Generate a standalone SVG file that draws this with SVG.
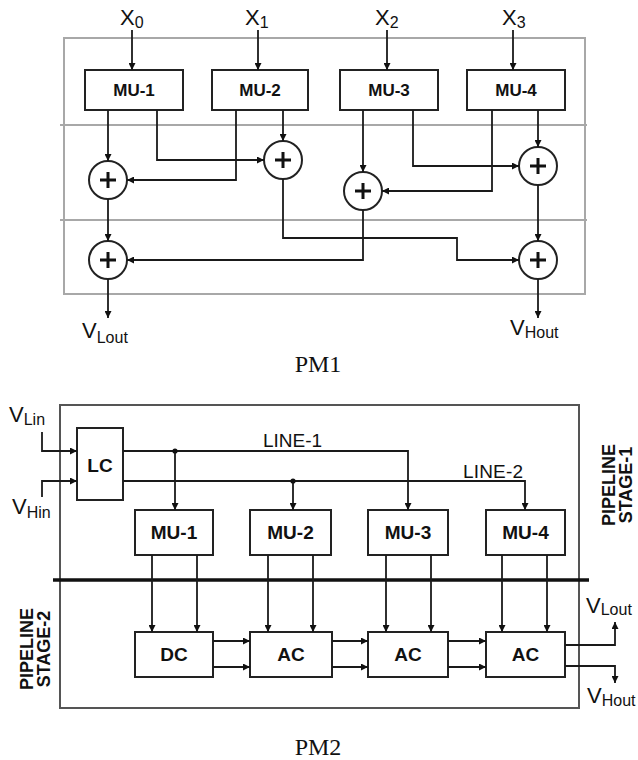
<svg xmlns="http://www.w3.org/2000/svg" width="638" height="760" viewBox="0 0 638 760">
<style>
.bg{fill:#fff}
.frame1{fill:none;stroke:#a8a8a8;stroke-width:2}
.frame2{fill:none;stroke:#555;stroke-width:2}
.box{fill:#fff;stroke:#222;stroke-width:2}
.add{fill:#fff;stroke:#222;stroke-width:2}
.plus{stroke:#111;stroke-width:3;fill:none}
.w{fill:none;stroke:#1a1a1a;stroke-width:1.8}
.lbl{font-family:"Liberation Sans",Arial,sans-serif;font-weight:bold;fill:#111;text-anchor:middle}
.sig{font-family:"Liberation Sans",Arial,sans-serif;fill:#111}
.cap{font-family:"Liberation Serif","Times New Roman",serif;font-size:24px;fill:#111;text-anchor:middle}
</style>
<defs>
<marker id="ah" viewBox="0 0 8 8" refX="8" refY="4" markerWidth="7" markerHeight="7" markerUnits="userSpaceOnUse" orient="auto">
<path d="M0,0 L8,4 L0,8 z" fill="#111"/>
</marker>
</defs>
<rect class="bg" x="0" y="0" width="638" height="760"/>

<!-- PM1 -->
<g id="pm1-frame">
<rect class="frame1" x="64" y="38" width="521" height="256"/>
<path class="frame1" d="M60,125 H587 M60,220 H587"/>
</g>

<g id="pm1-inputs">
<text class="sig" x="120" y="25" font-size="22">X<tspan font-size="16" dy="3">0</tspan></text>
<text class="sig" x="245" y="25" font-size="22">X<tspan font-size="16" dy="3">1</tspan></text>
<text class="sig" x="375" y="25" font-size="22">X<tspan font-size="16" dy="3">2</tspan></text>
<text class="sig" x="502" y="25" font-size="22">X<tspan font-size="16" dy="3">3</tspan></text>
</g>

<g id="pm1-mu1"><rect class="box" x="85" y="70" width="98" height="40"/><text class="lbl" x="134" y="96" font-size="17">MU-1</text></g>
<g id="pm1-mu2"><rect class="box" x="212" y="70" width="96" height="40"/><text class="lbl" x="260" y="96" font-size="17">MU-2</text></g>
<g id="pm1-mu3"><rect class="box" x="340" y="70" width="98" height="40"/><text class="lbl" x="389" y="96" font-size="17">MU-3</text></g>
<g id="pm1-mu4"><rect class="box" x="467" y="70" width="98" height="40"/><text class="lbl" x="516" y="96" font-size="17">MU-4</text></g>

<g id="pm1-add1"><circle class="add" cx="108" cy="180" r="19"/><path class="plus" d="M100,180 H116 M108,172 V188"/></g>
<g id="pm1-add2"><circle class="add" cx="283" cy="160" r="19"/><path class="plus" d="M275,160 H291 M283,152 V168"/></g>
<g id="pm1-add3"><circle class="add" cx="363" cy="191" r="19"/><path class="plus" d="M355,191 H371 M363,183 V199"/></g>
<g id="pm1-add4"><circle class="add" cx="538" cy="166" r="19"/><path class="plus" d="M530,166 H546 M538,158 V174"/></g>
<g id="pm1-add5"><circle class="add" cx="108" cy="260" r="19"/><path class="plus" d="M100,260 H116 M108,252 V268"/></g>
<g id="pm1-add6"><circle class="add" cx="538" cy="260" r="19"/><path class="plus" d="M530,260 H546 M538,252 V268"/></g>

<g id="pm1-connectors">
<path class="w" d="M132,30 V70" marker-end="url(#ah)"/>
<path class="w" d="M258,30 V70" marker-end="url(#ah)"/>
<path class="w" d="M387,30 V70" marker-end="url(#ah)"/>
<path class="w" d="M513,30 V70" marker-end="url(#ah)"/>
<path class="w" d="M108,110 V161" marker-end="url(#ah)"/>
<path class="w" d="M157,110 V160 H264" marker-end="url(#ah)"/>
<path class="w" d="M236,110 V180 H127" marker-end="url(#ah)"/>
<path class="w" d="M283,110 V141" marker-end="url(#ah)"/>
<path class="w" d="M363,110 V172" marker-end="url(#ah)"/>
<path class="w" d="M413,110 V166 H519" marker-end="url(#ah)"/>
<path class="w" d="M492,110 V191 H382" marker-end="url(#ah)"/>
<path class="w" d="M538,110 V147" marker-end="url(#ah)"/>
<path class="w" d="M108,199 V241" marker-end="url(#ah)"/>
<path class="w" d="M283,179 V238 H457 V260 H519" marker-end="url(#ah)"/>
<path class="w" d="M363,210 V260 H127" marker-end="url(#ah)"/>
<path class="w" d="M538,185 V241" marker-end="url(#ah)"/>
<path class="w" d="M108,279 V318" marker-end="url(#ah)"/>
<path class="w" d="M538,279 V318" marker-end="url(#ah)"/>
</g>

<g id="pm1-outputs">
<text class="sig" x="82" y="338" font-size="22">V<tspan font-size="16" dy="5">Lout</tspan></text>
<text class="sig" x="510" y="335" font-size="22">V<tspan font-size="16" dy="3">Hout</tspan></text>
</g>
<text class="cap" x="318" y="372">PM1</text>

<!-- PM2 -->
<g id="pm2-frame">
<rect class="frame2" x="60" y="405" width="519" height="303"/>
<path d="M53,580 H589" stroke="#111" stroke-width="3.5" fill="none"/>
</g>

<g id="pm2-inputs">
<text class="sig" x="9" y="422" font-size="22">V<tspan font-size="16" dy="3">Lin</tspan></text>
<text class="sig" x="12" y="514" font-size="22">V<tspan font-size="16" dy="4">Hin</tspan></text>
</g>

<g id="pm2-lc"><rect class="box" x="77" y="428" width="46" height="72"/><text class="lbl" x="100" y="472" font-size="19">LC</text></g>

<g id="pm2-mu1"><rect class="box" x="135" y="510" width="78" height="45"/><text class="lbl" x="174" y="539" font-size="19">MU-1</text></g>
<g id="pm2-mu2"><rect class="box" x="250" y="510" width="81" height="45"/><text class="lbl" x="290.5" y="539" font-size="19">MU-2</text></g>
<g id="pm2-mu3"><rect class="box" x="368" y="510" width="80" height="45"/><text class="lbl" x="408" y="539" font-size="19">MU-3</text></g>
<g id="pm2-mu4"><rect class="box" x="486" y="510" width="79" height="45"/><text class="lbl" x="525.5" y="539" font-size="19">MU-4</text></g>

<g id="pm2-dc"><rect class="box" x="135" y="632" width="78" height="45"/><text class="lbl" x="174" y="661" font-size="19">DC</text></g>
<g id="pm2-ac1"><rect class="box" x="250" y="632" width="82" height="45"/><text class="lbl" x="291" y="661" font-size="19">AC</text></g>
<g id="pm2-ac2"><rect class="box" x="368" y="632" width="80" height="45"/><text class="lbl" x="408" y="661" font-size="19">AC</text></g>
<g id="pm2-ac3"><rect class="box" x="486" y="632" width="79" height="45"/><text class="lbl" x="525.5" y="661" font-size="19">AC</text></g>

<g id="pm2-connectors">
<path class="w" d="M42,432 V451 H77" marker-end="url(#ah)"/>
<path class="w" d="M42,497 V481 H77" marker-end="url(#ah)"/>
<path class="w" d="M123,451 H408 V510" marker-end="url(#ah)"/>
<path class="w" d="M175,451 V510" marker-end="url(#ah)"/>
<path class="w" d="M123,481 H525 V510" marker-end="url(#ah)"/>
<path class="w" d="M293,481 V510" marker-end="url(#ah)"/>
<circle cx="175" cy="451" r="2.6" fill="#111"/>
<circle cx="293" cy="481" r="2.6" fill="#111"/>
<path class="w" d="M152,555 V632" marker-end="url(#ah)"/>
<path class="w" d="M197,555 V632" marker-end="url(#ah)"/>
<path class="w" d="M268,555 V632" marker-end="url(#ah)"/>
<path class="w" d="M313,555 V632" marker-end="url(#ah)"/>
<path class="w" d="M386,555 V632" marker-end="url(#ah)"/>
<path class="w" d="M431,555 V632" marker-end="url(#ah)"/>
<path class="w" d="M502,555 V632" marker-end="url(#ah)"/>
<path class="w" d="M547,555 V632" marker-end="url(#ah)"/>
<path class="w" d="M213,641 H250" marker-end="url(#ah)"/>
<path class="w" d="M213,667 H250" marker-end="url(#ah)"/>
<path class="w" d="M332,641 H368" marker-end="url(#ah)"/>
<path class="w" d="M332,667 H368" marker-end="url(#ah)"/>
<path class="w" d="M448,641 H486" marker-end="url(#ah)"/>
<path class="w" d="M448,667 H486" marker-end="url(#ah)"/>
<path class="w" d="M565,645 H615 V622" marker-end="url(#ah)"/>
<path class="w" d="M565,666 H615 V683" marker-end="url(#ah)"/>
</g>

<g id="pm2-line-labels">
<text class="sig" x="263" y="447" font-size="19" textLength="59">LINE-1</text>
<text class="sig" x="463" y="478" font-size="19" textLength="60">LINE-2</text>
</g>

<g id="pm2-outputs">
<text class="sig" x="586" y="613" font-size="22">V<tspan font-size="16" dy="2">Lout</tspan></text>
<text class="sig" x="587" y="703" font-size="22">V<tspan font-size="16" dy="3">Hout</tspan></text>
</g>

<g id="pm2-stage-labels">
<text class="lbl" font-size="18" transform="translate(615,485) rotate(-90)">PIPELINE</text>
<text class="lbl" font-size="18" transform="translate(632,485) rotate(-90)">STAGE-1</text>
<text class="lbl" font-size="18" transform="translate(33,649) rotate(-90)">PIPELINE</text>
<text class="lbl" font-size="18" transform="translate(50,649) rotate(-90)">STAGE-2</text>
</g>
<text class="cap" x="318" y="755">PM2</text>
</svg>
